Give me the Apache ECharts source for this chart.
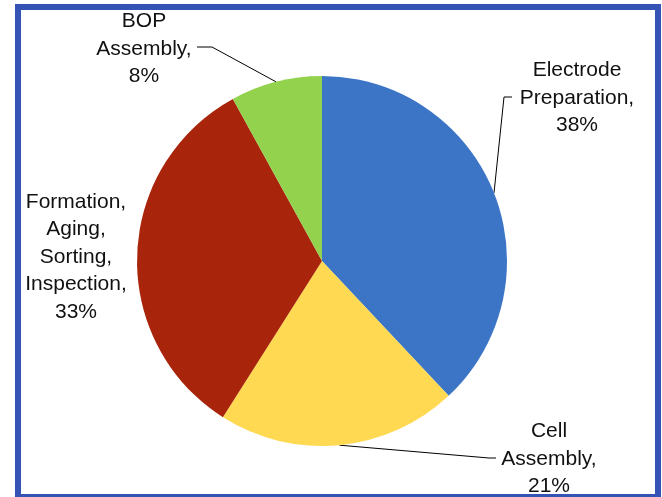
<!DOCTYPE html>
<html>
<head>
<meta charset="utf-8">
<script src="https://cdn.jsdelivr.net/npm/echarts@6/dist/echarts.min.js"></script>
<style>
  html, body { margin: 0; padding: 0; background: #fff; }
  #chart { width: 662px; height: 497px; }
</style>
</head>
<body>
<div id="chart"></div>
<script>
// Cost share by manufacturing step (percent)
const categories = ['Electrode Preparation', 'Cell Assembly', 'Formation, Aging, Sorting, Inspection', 'BOP Assembly'];
const shares = [38, 21, 33, 8];
// Wrapped label text for each step
const labelNames = ['Electrode\nPreparation,', 'Cell\nAssembly,', 'Formation,\nAging,\nSorting,\nInspection,', 'BOP\nAssembly,'];
const colors = ['#3C74C6', '#FFD951', '#A8240A', '#92D24D'];

// Label block centres and leader-line bends (pixel layout)
const labelLayouts = [
  { x: 577, y: 98, bend: [[504, 97], [512, 97]] },
  { x: 549, y: 459, bend: [[489, 458], [496, 458]] },
  { x: 76, y: 257, bend: null },
  { x: 144, y: 49, bend: [[212, 47], [197, 47]] }
];

const chart = echarts.init(document.getElementById('chart'), null, { renderer: 'canvas' });

chart.setOption({
  animation: false,
  backgroundColor: '#ffffff',
  graphic: [{
    type: 'rect',
    shape: { x: 18, y: 7, width: 640, height: 490 },
    style: { fill: 'none', stroke: '#3453B4', lineWidth: 6 },
    silent: true,
    z: 10
  }],
  series: [{
    type: 'pie',
    center: [322, 261],
    radius: 185,
    startAngle: 90,
    clockwise: true,
    itemStyle: { borderWidth: 0 },
    label: {
      show: true,
      position: 'outside',
      fontFamily: "'Liberation Sans', Arial, sans-serif",
      fontSize: 21,
      lineHeight: 27.5,
      color: '#111',
      align: 'center',
      formatter: p => labelNames[p.dataIndex] + '\n' + p.value + '%'
    },
    labelLine: {
      show: true,
      length: 10,
      length2: 10,
      lineStyle: { color: '#000', width: 1 }
    },
    labelLayout: function (params) {
      const L = labelLayouts[params.dataIndex];
      const out = { x: L.x, y: L.y, align: 'center', verticalAlign: 'middle' };
      if (L.bend && params.labelLinePoints) {
        const start = params.labelLinePoints[0];
        out.labelLinePoints = [start, L.bend[0], L.bend[1]];
      }
      return out;
    },
    data: categories.map((name, i) => ({
      name: name,
      value: shares[i],
      itemStyle: { color: colors[i] },
      labelLine: { show: labelLayouts[i].bend !== null }
    }))
  }]
});
</script>
</body>
</html>
